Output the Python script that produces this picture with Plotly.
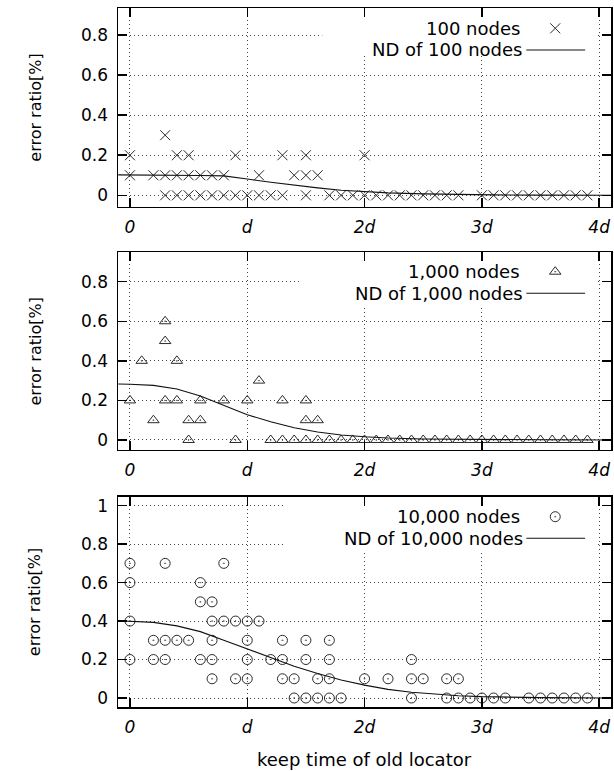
import plotly.graph_objects as go

# ---------------- data (x in units of d) ----------------
x_tick_vals = [0, 1, 2, 3, 4]
x_tick_text = ["0", "d", "2d", "3d", "4d"]
y_ticks_small = [0, 0.2, 0.4, 0.6, 0.8]
y_ticks_large = [0, 0.2, 0.4, 0.6, 0.8, 1.0]

# 100 nodes: (error ratio, keep-time positions)
n100_rows = [
    (0.0, [0.3, 0.4, 0.5, 0.6, 0.7, 0.8, 0.9, 1.0, 1.1, 1.2, 1.3, 1.5, 1.7, 1.8, 1.9, 2.0, 2.1,
           2.2, 2.3, 2.4, 2.5, 2.6, 2.7, 2.8, 3.0, 3.1, 3.2, 3.3, 3.4, 3.5, 3.6, 3.7, 3.8, 3.9]),
    (0.1, [0.0, 0.2, 0.3, 0.4, 0.5, 0.6, 0.7, 0.8, 1.1, 1.4, 1.5, 1.6]),
    (0.2, [0.0, 0.4, 0.5, 0.9, 1.3, 1.5, 2.0]),
    (0.3, [0.3]),
]
nd100_x = [-0.1, 0.0, 0.2, 0.4, 0.6, 0.8, 0.9, 1.0, 1.2, 1.4, 1.6, 1.8, 2.0, 2.2, 2.5, 2.8, 3.1, 3.5, 4.1]
nd100_y = [0.102, 0.102, 0.101, 0.100, 0.099, 0.097, 0.090, 0.081, 0.065, 0.050, 0.037, 0.025, 0.017,
           0.012, 0.007, 0.004, 0.002, 0.001, 0.0]

# 1,000 nodes
n1000_rows = [
    (0.0, [0.5, 0.9, 1.2, 1.3, 1.4, 1.5, 1.6, 1.7, 1.8, 1.9, 2.0, 2.1, 2.2, 2.3, 2.4, 2.5, 2.6, 2.7,
           2.8, 2.9, 3.0, 3.1, 3.2, 3.3, 3.4, 3.5, 3.6, 3.7, 3.8, 3.9]),
    (0.1, [0.2, 0.5, 0.6, 1.5, 1.6]),
    (0.2, [0.0, 0.3, 0.4, 0.6, 0.8, 1.0, 1.3, 1.5]),
    (0.3, [1.1]),
    (0.4, [0.1, 0.4]),
    (0.5, [0.3]),
    (0.6, [0.3]),
]
nd1000_x = [-0.1, 0.0, 0.2, 0.4, 0.6, 0.8, 1.0, 1.2, 1.4, 1.6, 1.8, 2.0, 2.2, 2.5, 3.0, 3.5, 4.1]
nd1000_y = [0.283, 0.282, 0.276, 0.258, 0.222, 0.176, 0.128, 0.092, 0.062, 0.040, 0.025, 0.016,
            0.010, 0.005, 0.002, 0.001, 0.0]

# 10,000 nodes
n10000_rows = [
    (0.0, [1.4, 1.5, 1.6, 1.7, 1.8, 2.4, 2.7, 2.8, 2.9, 3.0, 3.1, 3.2, 3.4, 3.5, 3.6, 3.7, 3.8, 3.9]),
    (0.1, [0.7, 0.9, 1.0, 1.3, 1.4, 1.6, 1.7, 2.0, 2.2, 2.4, 2.5, 2.7, 2.8]),
    (0.2, [0.0, 0.2, 0.3, 0.6, 0.7, 1.0, 1.2, 1.3, 1.5, 1.7, 2.4]),
    (0.3, [0.2, 0.3, 0.4, 0.5, 0.7, 1.0, 1.3, 1.5, 1.7]),
    (0.4, [0.0, 0.7, 0.8, 0.9, 1.0, 1.1]),
    (0.5, [0.6, 0.7]),
    (0.6, [0.0, 0.6]),
    (0.7, [0.0, 0.3, 0.8]),
]
nd10000_x = [-0.1, 0.0, 0.2, 0.4, 0.6, 0.8, 1.0, 1.2, 1.4, 1.6, 1.8, 2.0, 2.2, 2.4, 2.6, 2.8, 3.0, 3.5, 4.1]
nd10000_y = [0.402, 0.400, 0.393, 0.375, 0.345, 0.300, 0.255, 0.210, 0.165, 0.127, 0.094, 0.067,
             0.045, 0.030, 0.020, 0.012, 0.007, 0.002, 0.0]

series_labels = ["100 nodes", "1,000 nodes", "10,000 nodes"]
nd_labels = ["ND of 100 nodes", "ND of 1,000 nodes", "ND of 10,000 nodes"]

# ---------------- layout geometry ----------------
W, H = 614, 771
ML, MR, MT, MB = 118, 1, 8, 64
PW, PH = W - ML - MR, H - MT - MB

def px(xp):
    return (xp - ML) / PW

def py(yp):
    return (H - MB - yp) / PH

FONT = "DejaVu Sans"
GRID_DASH = "1px,3px"
MARK_COLOR = "#2a2a2a"

panels = [
    dict(rows=n100_rows, ndx=nd100_x, ndy=nd100_y, symbol="x-thin-open", size=10,
         domain=[0.7157, 1.0], yrange=[-0.057, 0.935], yticks=y_ticks_small,
         key_y=(28.3, 50.0), cover=(1.64, 0.70)),
    dict(rows=n1000_rows, ndx=nd1000_x, ndy=nd1000_y, symbol="triangle-up-open-dot", size=10,
         domain=[0.3677, 0.6505], yrange=[-0.0505, 0.9485], yticks=y_ticks_small,
         key_y=(271.7, 293.3), cover=(1.44, 0.68)),
    dict(rows=n10000_rows, ndx=nd10000_x, ndy=nd10000_y, symbol="circle-open-dot", size=10,
         domain=[0.0, 0.3009], yrange=[-0.0468, 1.0468], yticks=y_ticks_large,
         key_y=(516.7, 538.3), cover=(1.33, 0.76)),
]

fig = go.Figure()
annotations = []
shapes = []

for i, p in enumerate(panels):
    n = i + 1
    xa = "x" if n == 1 else f"x{n}"
    ya = "y" if n == 1 else f"y{n}"
    xs = [x for lvl, row in p["rows"] for x in row]
    ys = [lvl for lvl, row in p["rows"] for x in row]
    fig.add_trace(go.Scatter(
        x=xs, y=ys, mode="markers", xaxis=xa, yaxis=ya,
        marker=dict(symbol=p["symbol"], size=p["size"], color=MARK_COLOR,
                    line=dict(width=1, color=MARK_COLOR)),
        cliponaxis=False, showlegend=False))
    fig.add_trace(go.Scatter(
        x=p["ndx"], y=p["ndy"], mode="lines", xaxis=xa, yaxis=ya,
        line=dict(color="#111", width=1.1), showlegend=False))

    axis_common = dict(
        ticks="inside", ticklen=9, tickwidth=1.5, tickcolor="black",
        showline=True, mirror="ticks", linecolor="black", linewidth=1.5,
        showgrid=True, gridcolor="#444", gridwidth=1, griddash=GRID_DASH,
        zeroline=False, fixedrange=True,
    )
    fig.layout[f"xaxis{'' if n == 1 else n}"] = dict(
        axis_common, anchor=ya, domain=[0, 1], range=[-0.102, 4.101],
        tickvals=x_tick_vals, ticktext=x_tick_text,
        tickfont=dict(family=FONT, size=17, color="black", style="italic"),
        ticklabelstandoff=4,
    )
    fig.layout[f"yaxis{'' if n == 1 else n}"] = dict(
        axis_common, anchor=xa, domain=p["domain"], range=p["yrange"],
        tickvals=p["yticks"],
        tickfont=dict(family=FONT, size=17, color="black"),
        ticklabelstandoff=5,
    )

    # opaque key area hiding the grid behind the key
    shapes.append(dict(type="rect", xref=xa, yref=ya, layer="between",
                       x0=p["cover"][0], x1=3.97, y0=p["cover"][1], y1=p["yrange"][1],
                       fillcolor="white", line=dict(width=0)))

    # key texts
    k1, k2 = p["key_y"]
    annotations.append(dict(text=series_labels[i], xref="paper", yref="paper",
                            x=px(524), y=py(k1), xanchor="right", yanchor="middle",
                            showarrow=False, font=dict(family=FONT, size=18, color="black")))
    annotations.append(dict(text=nd_labels[i], xref="paper", yref="paper",
                            x=px(527), y=py(k2), xanchor="right", yanchor="middle",
                            showarrow=False, font=dict(family=FONT, size=18, color="black")))
    # key samples on a free axis spanning the whole plot area
    fig.add_trace(go.Scatter(
        x=[px(557)], y=[py(k1)], mode="markers", xaxis="x4", yaxis="y4",
        marker=dict(symbol=p["symbol"], size=p["size"], color=MARK_COLOR,
                    line=dict(width=1, color=MARK_COLOR)),
        cliponaxis=False, showlegend=False))
    fig.add_trace(go.Scatter(
        x=[px(528), px(587)], y=[py(k2), py(k2)], mode="lines", xaxis="x4", yaxis="y4",
        line=dict(color="#111", width=1.1), cliponaxis=False, showlegend=False))

    # y-axis title
    d0, d1 = p["domain"]
    annotations.append(dict(text="error ratio[%]", xref="paper", yref="paper",
                            x=px(35), y=(d0 + d1) / 2, xanchor="center", yanchor="middle",
                            textangle=-90, showarrow=False,
                            font=dict(family=FONT, size=16, color="black")))

fig.layout["xaxis4"] = dict(domain=[0, 1], range=[0, 1], visible=False, anchor="y4",
                            fixedrange=True, showgrid=False, zeroline=False)
fig.layout["yaxis4"] = dict(domain=[0, 1], range=[0, 1], visible=False, anchor="x4",
                            fixedrange=True, showgrid=False, zeroline=False)

annotations.append(dict(text="keep time of old locator", xref="paper", yref="paper",
                        x=px(366), y=py(759), xanchor="center", yanchor="middle",
                        showarrow=False, font=dict(family=FONT, size=18, color="black")))

fig.update_layout(
    width=W, height=H,
    margin=dict(l=ML, r=MR, t=MT, b=MB),
    paper_bgcolor="white", plot_bgcolor="rgba(0,0,0,0)",
    showlegend=False, hovermode=False,
    annotations=annotations, shapes=shapes,
    font=dict(family=FONT, color="black"),
)

fig.write_html("out.html", config={"displayModeBar": False, "staticPlot": True},
               post_script="document.body.style.margin='0';document.body.style.overflow='hidden';")
